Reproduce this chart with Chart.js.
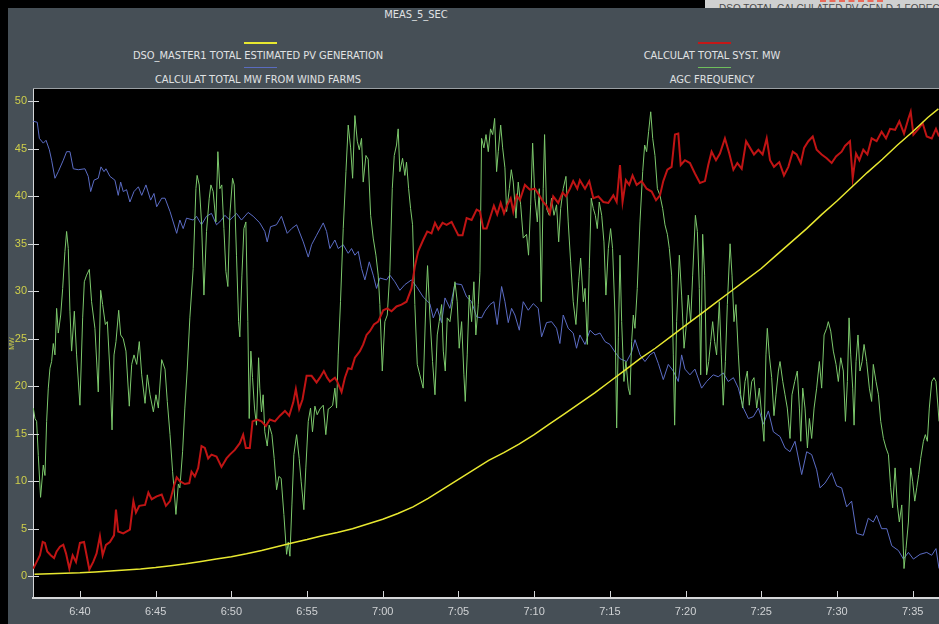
<!DOCTYPE html>
<html>
<head>
<meta charset="utf-8">
<script src="https://cdn.jsdelivr.net/npm/chart.js@4.4.0/dist/chart.umd.min.js"></script>
<style>
  body { margin: 0; width: 939px; height: 624px; overflow: hidden; background: #000; position: relative;
         font-family: 'Liberation Sans Narrow', 'Arial Narrow', 'DejaVu Sans Condensed', sans-serif; }
  #panel { position: absolute; left: 8px; top: 8px; width: 931px; height: 616px; background: #464f56; }
  #corner { position: absolute; left: 705px; top: 0; width: 234px; height: 8px; background: #cfd0d0; overflow: hidden; }
  #corner span { position: absolute; left: 14px; top: 3px; font: 10px 'Liberation Sans', sans-serif; color: #4a4a4a; white-space: nowrap; }
  #cornerDash { position: absolute; left: 820px; top: 0; width: 63px; border-top: 2px dashed #e86a5a; }
  .txt { position: absolute; color: #e0e2e4; font-size: 11px; line-height: 12px; white-space: nowrap; text-align: center; width: 400px; }
  .key { position: absolute; width: 33px; }
  #wrap { position: absolute; left: 8px; top: 8px; width: 931px; height: 616px; }
</style>
</head>
<body>
<div id="panel"></div>
<div id="corner"><span>DSO TOTAL CALCULATED PV GEN D-1 FORECAST</span></div>
<div id="cornerDash"></div>
<div class="txt" style="left:216px; top:9px;">MEAS_5_SEC</div>

<div class="key" style="left:244px; top:42px; height:2px; background:#e8e830;"></div>
<div class="txt" style="left:58px; top:50px;">DSO_MASTER1 TOTAL ESTIMATED PV GENERATION</div>
<div class="key" style="left:244px; top:67px; height:1px; background:#5a6cc0;"></div>
<div class="txt" style="left:58px; top:74px;">CALCULAT TOTAL MW FROM WIND FARMS</div>

<div class="key" style="left:698px; top:42px; height:2px; background:#c41818;"></div>
<div class="txt" style="left:512px; top:50px;">CALCULAT TOTAL SYST. MW</div>
<div class="key" style="left:698px; top:67px; height:1px; background:#6fbf5c;"></div>
<div class="txt" style="left:512px; top:74px;">AGC FREQUENCY</div>

<div id="wrap"><canvas id="chart" width="931" height="616"></canvas></div>

<script>
// time axis in minutes since midnight (6:40 = 400)
var timeMin = 396.9;
var timeMax = 456.74;
var mwMin = -2.3;
var mwMax = 51.3;

var seriesNames = [
  "DSO_MASTER1 TOTAL ESTIMATED PV GENERATION",
  "CALCULAT TOTAL MW FROM WIND FARMS",
  "CALCULAT TOTAL SYST. MW",
  "AGC FREQUENCY"
];

// PV generation (yellow)
var pvTimes = [397,398,399,400,401,402,403,404,405,406,
  407,408,409,410,411,412,413,414,415,416,
  417,418,419,420,421,422,423,424,425,426,
  427,428,429,430,431,432,433,434,435,436,
  437,438,439,440,441,442,443,444,445,446,
  447,448,449,450,451,452,453,454,455,456,456.7];
var pvValues = [0.2,0.25,0.3,0.35,0.45,0.55,0.65,0.75,0.9,1.1,
  1.3,1.55,1.8,2.05,2.35,2.7,3.1,3.5,3.85,4.25,
  4.6,5.0,5.5,6.0,6.6,7.3,8.2,9.2,10.2,11.2,
  12.2,13.0,13.9,14.9,16.0,17.1,18.2,19.3,20.5,21.7,
  22.9,24.0,25.2,26.4,27.6,28.8,30.0,31.2,32.4,33.8,
  35.2,36.6,38.1,39.5,41.0,42.5,43.9,45.4,46.8,48.3,49.2];

// wind farms (blue)
var windTimes = [396.92,397.18,397.32,397.58,397.76,397.98,398.13,398.35,398.57,398.90,
  399.12,399.34,399.56,399.89,400.33,400.55,400.71,400.93,401.21,401.39,
  401.59,401.72,401.98,402.31,402.53,402.69,402.86,403.08,403.30,403.57,
  403.86,404.08,404.36,404.67,404.89,405.07,405.40,405.62,405.95,406.39,
  406.60,406.82,407.04,407.48,407.70,408.03,408.36,408.69,409.02,409.35,
  409.57,409.90,410.34,410.67,411.11,411.44,411.88,412.21,412.37,412.59,
  412.98,413.31,413.69,413.98,414.31,414.75,415.08,415.30,415.63,416.07,
  416.29,416.51,416.84,417.06,417.39,417.72,417.94,418.16,418.38,418.60,
  418.82,419.11,419.37,419.59,419.81,420.25,420.47,420.80,421.13,421.46,
  421.90,422.23,422.67,423.11,423.34,423.60,423.89,424.11,424.44,424.77,
  425.21,425.54,425.87,426.20,426.53,426.75,427.08,427.34,427.56,427.85,
  428.07,428.29,428.51,428.73,429.02,429.28,429.61,429.94,430.27,430.49,
  430.82,431.15,431.48,431.70,431.92,432.25,432.58,432.80,433.02,433.36,
  433.69,434.02,434.35,434.68,435.01,435.34,435.67,436.11,436.44,436.66,
  436.99,437.32,437.65,437.92,438.20,438.53,438.86,439.19,439.52,439.74,
  439.96,440.29,440.62,441.06,441.39,441.83,442.16,442.49,442.82,443.16,
  443.49,443.82,444.15,444.48,444.81,445.14,445.47,445.80,446.24,446.57,
  446.90,447.23,447.67,448.00,448.33,448.66,448.88,449.21,449.65,449.98,
  450.31,450.64,450.97,451.30,451.74,452.07,452.40,452.62,452.95,453.29,
  453.62,454.06,454.39,454.72,455.05,455.49,455.93,456.26,456.54,456.74];
var windValues = [47.9,47.8,46.1,45.6,45.9,44.9,43.8,41.9,42.6,43.8,
  44.7,44.7,42.9,42.8,42.9,42.1,40.5,41.7,41.9,43.1,
  42.6,42.9,42.1,41.7,40.1,41.5,40.5,40.7,39.4,40.5,
  41.0,40.1,41.2,39.6,40.3,38.9,39.8,39.8,38.4,36.1,
  37.5,36.6,37.7,37.5,37.9,37.0,37.9,38.2,37.0,37.5,
  38.0,37.5,38.2,37.5,38.3,37.9,37.2,36.3,35.2,36.8,
  37.0,37.9,36.1,36.6,37.0,35.2,33.6,34.9,35.9,37.2,
  36.3,34.5,35.4,34.5,34.9,34.0,34.5,33.8,34.2,32.4,
  31.2,33.1,31.7,30.3,31.4,31.2,31.7,31.0,30.1,30.7,
  31.2,30.5,29.4,28.7,27.2,28.2,26.7,29.3,28.2,30.8,
  30.7,29.4,28.9,27.3,27.2,27.9,28.6,28.9,26.5,30.5,
  28.9,26.7,28.2,27.5,25.9,28.9,28.0,28.7,28.2,25.2,
  26.7,26.8,26.1,24.5,27.5,26.1,25.6,24.0,25.4,24.4,
  25.9,25.4,25.6,24.7,24.4,23.6,22.9,22.6,23.6,24.9,
  23.3,22.6,23.3,23.6,22.4,20.7,22.3,21.6,20.5,23.3,
  21.8,21.2,21.8,19.8,20.5,21.2,21.0,21.4,20.5,20.9,
  19.8,17.7,16.6,16.8,17.7,16.0,17.4,15.2,14.7,13.5,
  13.1,14.2,10.7,13.1,12.8,11.2,9.3,9.8,10.9,9.5,
  9.3,7.3,7.9,4.5,4.3,6.1,5.7,6.4,5.0,5.0,
  3.2,2.7,1.8,2.5,1.8,2.3,2.5,2.2,2.9,0.8];

// total system MW (red)
var systTimes = [396.92,397.14,397.36,397.54,397.69,397.84,398.07,398.29,398.46,398.68,
  398.90,399.08,399.30,399.52,399.74,400.00,400.27,400.44,400.62,400.88,
  401.10,401.32,401.50,401.72,401.98,402.25,402.38,402.53,402.86,403.30,
  403.53,403.70,403.92,404.30,404.52,404.74,405.07,405.40,405.68,405.95,
  406.21,406.39,406.60,406.93,407.22,407.37,407.59,407.81,408.03,408.25,
  408.47,408.69,409.02,409.35,409.68,409.90,410.23,410.56,410.78,410.96,
  411.22,411.40,411.71,411.99,412.28,412.54,412.88,413.21,413.54,413.82,
  414.09,414.26,414.48,414.70,414.97,415.30,415.63,415.85,416.11,416.33,
  416.51,416.84,416.99,417.28,417.50,417.72,417.94,418.16,418.49,418.71,
  418.93,419.15,419.42,419.70,420.03,420.30,420.58,420.91,421.24,421.57,
  421.90,422.12,422.34,422.67,422.94,423.22,423.45,423.67,423.95,424.22,
  424.55,424.77,424.99,425.27,425.54,425.87,426.20,426.42,426.64,426.86,
  427.12,427.34,427.56,427.79,428.01,428.23,428.45,428.62,428.84,429.06,
  429.39,429.72,430.05,430.34,430.60,430.82,431.04,431.26,431.59,431.88,
  432.10,432.36,432.58,432.85,433.02,433.36,433.64,433.91,434.24,434.57,
  434.90,435.23,435.45,435.67,435.84,436.06,436.28,436.50,436.77,437.10,
  437.43,437.76,438.05,438.31,438.53,438.80,439.08,439.30,439.52,439.68,
  439.96,440.29,440.62,440.95,441.28,441.50,441.72,442.01,442.27,442.60,
  442.89,443.16,443.42,443.71,444.00,444.26,444.52,444.81,445.09,445.36,
  445.58,445.84,446.19,446.50,446.79,447.08,447.34,447.61,447.83,448.11,
  448.40,448.66,448.99,449.32,449.65,449.94,450.31,450.53,450.86,451.04,
  451.26,451.48,451.74,452.01,452.29,452.62,452.95,453.24,453.51,453.84,
  454.12,454.43,454.72,454.87,455.05,455.38,455.66,455.93,456.26,456.54,
  456.74];
var systValues = [0.8,1.5,2.2,3.6,3.5,2.6,2.2,1.9,2.6,3.1,
  3.3,2.4,0.8,2.2,1.5,3.5,3.6,2.2,0.7,1.5,
  2.4,4.2,2.2,3.3,3.6,4.3,7.0,4.7,4.5,4.9,
  7.9,6.7,7.4,7.5,8.8,8.1,8.4,8.6,7.4,7.9,
  9.5,10.4,10.0,9.7,9.8,11.0,10.5,11.4,13.7,13.5,
  12.4,12.8,12.6,11.5,12.4,12.8,13.3,14.0,14.9,13.5,
  13.5,16.3,16.5,16.3,15.8,16.5,16.3,16.9,17.4,16.9,
  18.3,19.7,17.6,18.6,21.1,21.1,20.4,20.9,21.6,20.9,
  20.5,20.9,20.5,19.4,20.9,21.9,21.8,23.0,23.7,24.4,
  25.4,25.8,26.5,26.8,28.0,28.2,27.9,28.4,28.6,28.9,
  30.3,32.6,34.2,35.4,36.3,36.1,37.2,36.5,37.2,37.0,
  37.3,36.6,35.9,35.9,37.7,37.5,38.6,38.4,36.6,36.6,
  37.9,39.0,38.1,39.3,38.2,39.1,39.8,38.4,40.1,39.6,
  41.2,40.7,40.8,40.1,39.4,39.0,38.2,40.0,39.3,40.4,
  40.0,40.8,41.6,40.8,41.7,40.8,41.6,39.8,40.0,39.4,
  39.3,40.1,39.4,43.3,39.4,41.7,41.2,42.2,41.2,41.6,
  40.8,40.5,39.6,40.1,41.6,42.8,43.1,46.5,46.6,43.3,
  43.8,43.5,42.4,41.4,41.6,43.3,44.7,43.8,44.5,46.1,
  44.5,42.8,43.5,42.9,45.8,45.1,44.4,44.9,44.4,46.1,
  43.8,43.1,43.6,42.2,43.1,44.7,44.4,43.5,45.1,45.8,
  46.3,44.9,44.4,44.0,43.5,44.2,44.7,45.3,45.8,41.9,
  44.5,43.8,44.9,44.4,46.1,45.8,46.8,46.1,47.1,47.0,
  47.9,46.6,48.2,48.9,46.5,47.1,47.7,46.3,46.1,47.1,
  46.3];

// AGC frequency (green)
var agcTimes = [396.92,397.03,397.14,397.25,397.40,397.58,397.69,397.80,397.91,398.02,
  398.13,398.24,398.35,398.46,398.57,398.73,398.86,399.01,399.12,399.23,
  399.34,399.45,399.63,399.78,400.00,400.18,400.29,400.44,400.62,400.77,
  400.99,401.21,401.37,401.50,401.68,401.81,401.98,402.12,402.25,402.38,
  402.56,402.69,402.86,403.04,403.26,403.42,403.57,403.75,403.92,404.08,
  404.30,404.45,404.63,404.85,405.02,405.18,405.40,405.62,405.77,405.95,
  406.12,406.21,406.34,406.50,406.60,406.78,406.93,407.08,407.26,407.48,
  407.66,407.74,407.88,408.03,408.19,408.36,408.54,408.65,408.80,408.98,
  409.11,409.24,409.37,409.51,409.64,409.77,409.90,410.08,410.19,410.34,
  410.48,410.56,410.70,410.83,410.96,411.09,411.18,411.29,411.40,411.53,
  411.66,411.80,411.88,411.99,412.10,412.21,412.37,412.50,412.68,412.83,
  412.99,413.14,413.29,413.47,413.65,413.76,413.87,414.00,414.13,414.31,
  414.48,414.61,414.79,414.92,415.08,415.23,415.36,415.52,415.67,415.85,
  416.07,416.24,416.40,416.51,416.69,416.84,416.95,417.06,417.21,417.39,
  417.57,417.72,417.88,418.01,418.16,418.32,418.45,418.60,418.71,418.89,
  419.04,419.20,419.37,419.55,419.70,419.81,419.97,420.14,420.30,420.47,
  420.63,420.76,420.91,421.02,421.13,421.31,421.46,421.57,421.71,421.84,
  421.97,422.12,422.28,422.45,422.67,422.85,422.96,423.11,423.29,423.45,
  423.60,423.73,423.89,424.00,424.13,424.26,424.44,424.61,424.77,424.92,
  425.05,425.21,425.36,425.45,425.58,425.71,425.87,426.02,426.15,426.31,
  426.42,426.53,426.68,426.82,426.97,427.12,427.26,427.39,427.52,427.63,
  427.79,427.92,428.07,428.18,428.36,428.49,428.62,428.80,428.95,429.11,
  429.28,429.50,429.63,429.77,429.90,430.05,430.21,430.34,430.47,430.60,
  430.69,430.82,431.00,431.15,431.31,431.48,431.62,431.75,431.92,432.10,
  432.25,432.41,432.58,432.76,432.94,433.07,433.25,433.36,433.51,433.64,
  433.77,433.91,434.04,434.17,434.30,434.46,434.61,434.74,434.90,435.05,
  435.18,435.34,435.45,435.56,435.67,435.78,435.93,436.06,436.22,436.33,
  436.44,436.55,436.66,436.81,436.99,437.17,437.30,437.43,437.56,437.70,
  437.83,437.98,438.14,438.31,438.49,438.64,438.80,438.93,439.08,439.19,
  439.28,439.41,439.59,439.74,439.90,440.03,440.18,440.34,440.47,440.65,
  440.78,440.91,441.00,441.13,441.26,441.39,441.53,441.66,441.79,441.92,
  442.05,442.23,442.36,442.49,442.63,442.76,442.94,443.07,443.20,443.33,
  443.49,443.64,443.77,443.93,444.08,444.21,444.37,444.52,444.70,444.87,
  445.03,445.18,445.31,445.40,445.53,445.69,445.84,445.97,446.13,446.24,
  446.42,446.57,446.72,446.90,447.03,447.21,447.38,447.52,447.61,447.74,
  447.89,448.05,448.18,448.33,448.49,448.66,448.84,448.99,449.15,449.32,
  449.43,449.59,449.76,449.94,450.09,450.25,450.42,450.56,450.69,450.80,
  450.91,451.04,451.13,451.26,451.39,451.52,451.66,451.79,451.96,452.14,
  452.29,452.40,452.58,452.74,452.89,453.07,453.24,453.40,453.55,453.68,
  453.84,453.99,454.12,454.28,454.43,454.56,454.72,454.87,455.00,455.14,
  455.27,455.40,455.53,455.71,455.84,455.97,456.10,456.26,456.41,456.54,
  456.68,456.74];
var agcValues = [17.7,16.6,16.3,12.7,8.3,11.7,10.6,16.3,19.8,21.9,
  22.6,24.5,23.3,28.2,25.6,27.5,30.3,34.2,36.3,34.5,
  27.9,23.7,27.9,23.3,18.0,27.2,31.0,31.7,32.3,28.9,
  26.1,19.4,30.1,28.6,26.5,26.8,21.6,15.4,23.3,24.7,
  28.0,25.4,25.0,23.7,17.9,22.3,23.3,22.3,24.7,21.2,
  18.2,21.2,19.1,17.3,19.1,17.7,22.8,21.8,18.4,14.9,
  11.0,9.3,6.5,9.7,9.3,13.1,17.7,21.6,27.2,32.4,
  40.8,42.2,41.2,37.3,29.6,36.3,39.8,41.2,40.5,37.3,
  44.7,40.8,41.2,36.6,32.1,30.5,38.0,41.9,41.2,33.8,
  26.8,25.2,31.7,36.6,37.3,26.8,16.6,23.7,20.9,17.7,
  15.9,23.0,19.8,17.3,19.1,15.2,13.7,15.9,14.9,12.4,
  9.1,10.5,10.3,6.5,2.3,3.6,2.1,7.5,12.8,14.9,
  12.4,10.0,7.0,11.4,16.3,17.7,15.2,17.9,17.0,17.6,
  18.0,14.9,17.6,17.7,18.0,19.8,17.7,23.3,28.9,36.6,
  42.6,47.5,45.1,41.9,48.5,45.8,44.9,46.1,41.5,44.3,
  43.9,38.0,35.6,33.8,31.7,28.6,21.6,26.8,27.5,32.1,
  40.8,44.3,45.4,47.1,42.6,44.0,42.2,43.6,40.8,38.7,
  37.0,28.6,22.3,21.2,19.8,28.9,32.7,27.5,22.6,19.1,
  25.4,26.8,28.6,23.7,21.6,27.2,26.8,28.9,31.0,28.9,
  24.0,26.8,21.2,18.4,23.3,29.6,26.8,31.0,25.4,28.6,
  32.0,46.1,45.1,46.5,44.7,47.1,46.5,48.2,42.6,44.7,
  47.5,45.1,43.0,38.4,40.8,42.8,41.5,37.7,41.5,39.1,
  35.6,36.0,33.8,39.1,45.6,39.8,37.3,40.8,28.9,40.8,
  46.5,38.7,38.0,39.8,38.0,39.1,35.2,38.7,40.8,42.1,
  37.3,33.1,28.9,26.5,31.0,33.5,28.9,30.3,24.4,32.4,
  39.8,38.7,38.0,36.6,39.4,38.0,35.2,29.6,34.5,36.6,
  34.5,27.5,15.6,25.1,33.8,26.8,20.5,22.6,19.8,19.1,
  24.7,27.5,26.1,30.3,37.3,42.6,45.4,44.7,46.8,48.9,
  46.1,44.3,40.8,40.1,38.7,37.0,36.0,34.5,31.7,23.3,
  15.9,26.8,33.8,29.6,24.0,26.1,29.6,26.8,31.7,38.0,
  36.3,30.3,21.2,36.0,31.7,21.2,22.6,24.7,26.8,24.7,
  23.3,28.9,23.3,18.0,22.6,28.6,35.0,31.7,26.8,28.6,
  23.3,19.1,17.7,20.5,21.6,18.0,20.5,20.9,17.7,19.8,
  16.9,14.2,23.3,26.1,23.3,20.9,16.9,19.1,21.6,22.6,
  20.5,19.1,17.7,14.5,19.1,20.5,21.6,17.7,14.2,19.8,
  17.7,13.5,16.6,14.5,17.7,19.8,22.6,19.8,25.4,26.1,
  26.8,25.8,23.7,22.3,20.5,23.0,21.6,16.3,20.5,27.2,
  23.3,19.8,15.9,22.6,25.4,21.6,22.6,24.4,22.6,19.8,
  18.4,22.3,20.5,19.1,16.3,14.5,13.5,12.8,9.3,7.2,
  11.4,7.5,5.7,7.5,0.8,2.9,5.7,11.4,10.0,7.9,
  9.3,10.7,12.4,14.2,14.9,14.2,17.7,20.5,20.9,20.5,
  17.7,16.3];

function toPoints(times, values) {
  return times.map(function(t, i) { return { x: t, y: values[i] }; });
}

function isWhole(v) { return Math.abs(v - Math.round(v)) < 1e-6; }

function fmtTime(v) {
  var m = Math.round(v);
  var mm = m % 60;
  return Math.floor(m / 60) + ":" + (mm < 10 ? "0" + mm : mm);
}

// black plot area, top frame and the small tick marks
var plotFrame = {
  id: 'plotFrame',
  beforeDraw: function(chart) {
    var a = chart.chartArea, ctx = chart.ctx;
    ctx.save();
    ctx.fillStyle = '#000';
    ctx.fillRect(a.left, a.top, a.right - a.left, a.bottom - a.top);
    ctx.restore();
  },
  afterDraw: function(chart) {
    var a = chart.chartArea, ctx = chart.ctx;
    var x = chart.scales.x, y = chart.scales.y;
    ctx.save();
    ctx.strokeStyle = '#d4d6d8';
    ctx.lineWidth = 1;
    ctx.beginPath();
    x.ticks.forEach(function(t) {
      if (!isWhole(t.value)) return;
      var px = Math.round(x.getPixelForValue(t.value)) + 0.5;
      var len = Math.round(t.value) % 5 === 0 ? 7 : 4;
      ctx.moveTo(px, a.bottom);
      ctx.lineTo(px, a.bottom - len);
    });
    y.ticks.forEach(function(t) {
      if (!isWhole(t.value)) return;
      var py = Math.round(y.getPixelForValue(t.value)) + 0.5;
      if (Math.round(t.value) % 5 === 0) {
        ctx.moveTo(a.left - 5, py);
        ctx.lineTo(a.left + 6, py);
      } else {
        ctx.moveTo(a.left, py);
        ctx.lineTo(a.left + 4, py);
      }
    });
    ctx.stroke();
    ctx.strokeStyle = '#9aa0a4';
    ctx.beginPath();
    ctx.moveTo(a.left, a.top - 0.5);
    ctx.lineTo(a.right, a.top - 0.5);
    ctx.stroke();
    ctx.restore();
  }
};

new Chart(document.getElementById('chart'), {
  type: 'line',
  data: {
    datasets: [
      { label: seriesNames[0], data: toPoints(pvTimes, pvValues), borderColor: '#e8e830', borderWidth: 1.5, order: 0 },
      { label: seriesNames[2], data: toPoints(systTimes, systValues), borderColor: '#c01414', borderWidth: 2, order: 1 },
      { label: seriesNames[3], data: toPoints(agcTimes, agcValues), borderColor: '#7cc86c', borderWidth: 1, order: 2 },
      { label: seriesNames[1], data: toPoints(windTimes, windValues), borderColor: '#5b6cc4', borderWidth: 1, order: 3 }
    ]
  },
  options: {
    responsive: false,
    animation: false,
    devicePixelRatio: 1,
    elements: { point: { radius: 0 }, line: { tension: 0, fill: false } },
    layout: { padding: { top: 81, left: 0, right: 0, bottom: 0 } },
    plugins: { legend: { display: false }, tooltip: { enabled: false } },
    scales: {
      x: {
        type: 'linear',
        min: timeMin,
        max: timeMax,
        grid: { display: false, drawTicks: false },
        border: { display: true, color: '#d4d6d8', width: 2 },
        ticks: {
          stepSize: 1,
          autoSkip: false,
          maxRotation: 0,
          padding: 7,
          color: '#d0d2d4',
          font: { family: "'Liberation Sans', Arial, sans-serif", size: 11 },
          callback: function(v) {
            if (!isWhole(v) || Math.round(v) % 5 !== 0) return null;
            return fmtTime(v);
          }
        },
        afterFit: function(s) { s.height = 26; }
      },
      y: {
        min: mwMin,
        max: mwMax,
        grid: { display: false, drawTicks: false },
        border: { display: true, color: '#d4d6d8', width: 1 },
        title: { display: true, text: 'MW', color: '#cfcf4a', font: { size: 7 }, padding: 0 },
        ticks: {
          stepSize: 1,
          autoSkip: false,
          padding: 6,
          color: '#cfcf4a',
          font: { family: "'Liberation Sans', Arial, sans-serif", size: 11 },
          callback: function(v) {
            if (!isWhole(v) || Math.round(v) % 5 !== 0) return null;
            return String(Math.round(v));
          }
        },
        afterFit: function(s) { s.width = 25; }
      }
    }
  },
  plugins: [plotFrame]
});
</script>
</body>
</html>
